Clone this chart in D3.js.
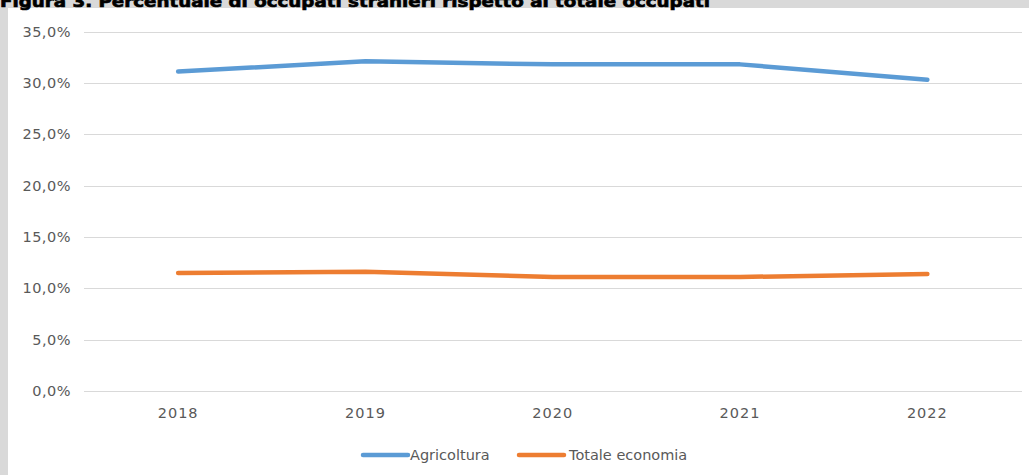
<!DOCTYPE html>
<html><head><meta charset="utf-8">
<script src="https://cdn.jsdelivr.net/npm/d3@7"></script>
<style>body{margin:0;background:#fff;}svg{display:block;}</style>
</head><body>
<script>
const years = ["2018","2019","2020","2021","2022"];
const agricoltura = [31.1, 32.1, 31.8, 31.8, 30.3];
const totaleEconomia = [11.5, 11.6, 11.1, 11.1, 11.4];
const yTicks = [0,5,10,15,20,25,30,35];
const seriesNames = ["Agricoltura","Totale economia"];
const colors = ["#5b9bd5","#ed7d31"];
const title = "Figura 3. Percentuale di occupati stranieri rispetto al totale occupati";

const W=1029,H=475;
const svg=d3.select("body").append("svg").attr("width",W).attr("height",H);
svg.append("rect").attr("width",W).attr("height",H).attr("fill","#d9d9d9");
svg.append("rect").attr("x",8).attr("y",8).attr("width",W-8).attr("height",H-8).attr("fill","#fff");
svg.append("text").attr("x",0).attr("y",6.5).attr("font-family","DejaVu Sans, Arial").attr("font-weight","bold")
  .attr("font-size",16.5).attr("textLength",710).attr("lengthAdjust","spacingAndGlyphs")
  .attr("fill","#000").attr("stroke","#000").attr("stroke-width",0.7).text(title);

const x=d3.scaleBand().domain(years).range([84.5,1021]);
const y=d3.scaleLinear().domain([0,35]).range([391,31.5]);
const font="DejaVu Sans, Arial, sans-serif";

const g=svg.append("g");
g.selectAll("line.grid").data(yTicks).join("line").attr("class","grid")
 .attr("x1",84).attr("x2",1022).attr("y1",d=>Math.round(y(d))+0.5).attr("y2",d=>Math.round(y(d))+0.5)
 .attr("stroke","#d9d9d9").attr("stroke-width",1);

const fmt=d=>d3.format(".1f")(d).replace(".",",")+"%";
g.selectAll("text.yl").data(yTicks).join("text").attr("class","yl")
 .attr("x",71).attr("y",d=>y(d)+5).attr("text-anchor","end")
 .attr("font-family",font).attr("font-size",14.5).attr("letter-spacing",0.5).attr("fill","#595959").text(fmt);

g.selectAll("text.xl").data(years).join("text").attr("class","xl")
 .attr("x",d=>x(d)+x.bandwidth()/2).attr("y",418).attr("text-anchor","middle")
 .attr("font-family",font).attr("font-size",14.5).attr("letter-spacing",1).attr("fill","#595959").text(d=>d);

const line=d3.line().x((d,i)=>x(years[i])+x.bandwidth()/2).y(d=>y(d)).curve(d3.curveLinear);
[agricoltura,totaleEconomia].forEach((s,i)=>{
  g.append("path").attr("d",line(s)).attr("fill","none").attr("stroke",colors[i])
   .attr("stroke-width",4.5).attr("stroke-linecap","round").attr("stroke-linejoin","round");
});

// legend
const leg=[{x:363,tx:410},{x:519,tx:569}];
seriesNames.forEach((n,i)=>{
  svg.append("line").attr("x1",leg[i].x).attr("x2",leg[i].x+45).attr("y1",455).attr("y2",455)
   .attr("stroke",colors[i]).attr("stroke-width",4.5).attr("stroke-linecap","round");
  svg.append("text").attr("x",leg[i].tx).attr("y",460).attr("font-family",font).attr("font-size",14.5)
   .attr("fill","#595959").text(n);
});
</script>
</body></html>
